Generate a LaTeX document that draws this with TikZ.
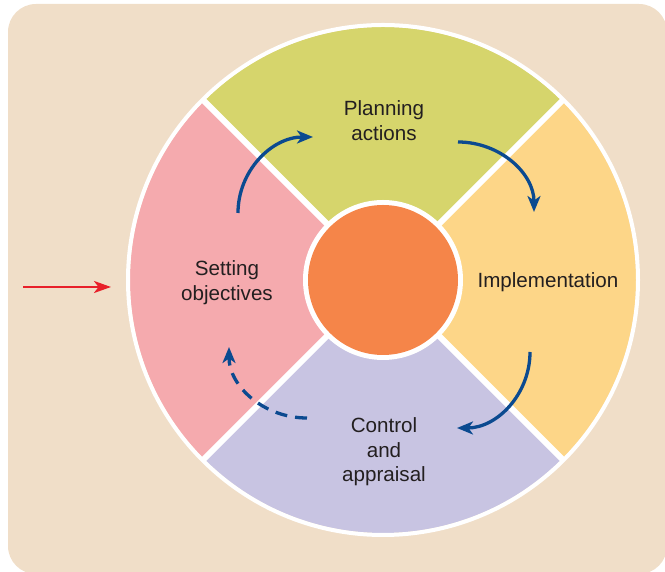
\documentclass[tikz,border=0pt]{standalone}
\usepackage{fontspec}
\setmainfont{Liberation Sans}
\usetikzlibrary{arrows.meta}
\definecolor{bgc}{HTML}{F0DEC8}
\definecolor{greenc}{HTML}{D6D56C}
\definecolor{yellowc}{HTML}{FDD688}
\definecolor{purplec}{HTML}{C8C4E2}
\definecolor{pinkc}{HTML}{F5AAAE}
\definecolor{corec}{HTML}{F58549}
\definecolor{navyc}{HTML}{0B4A90}
\definecolor{redc}{HTML}{E8202A}
\definecolor{textc}{HTML}{231F20}
\tikzset{
  lbl/.style={text=textc, align=center, inner sep=0pt,
    font=\fontsize{20.6}{24.5}\selectfont},
  cyclearrow/.style={draw=navyc, line width=3.3pt,
    -{Stealth[length=16pt,width=13pt,inset=4.5pt]}},
  inarrow/.style={draw=redc, line width=2.4pt,
    -{Stealth[length=17pt,width=12pt,inset=4.5pt]}},
  divider/.style={draw=white, line width=6pt}
}
\begin{document}
\begin{tikzpicture}[x=1pt,y=1pt]
\useasboundingbox (0,0) rectangle (665,572);
\fill[bgc, rounded corners=28pt] (8,-2) rectangle (667,568);
\coordinate (C) at (383,292);
% sectors
\fill[greenc]  (C) -- ++(45:253)  arc[start angle=45,end angle=135,radius=253] -- cycle;
\fill[pinkc]   (C) -- ++(135:253) arc[start angle=135,end angle=225,radius=253] -- cycle;
\fill[purplec] (C) -- ++(225:253) arc[start angle=225,end angle=315,radius=253] -- cycle;
\fill[yellowc] (C) -- ++(-45:253) arc[start angle=-45,end angle=45,radius=253] -- cycle;
% dividers and border
\foreach \a in {45,135,225,315} \draw[divider] (C) -- ++(\a:255);
\draw[white, line width=4pt] (C) circle[radius=255];
\fill[white] (C) circle[radius=80];
\fill[corec] (C) circle[radius=75];
% labels
\node[lbl] (plan) at (384,451.5) {Planning\\actions};
\node[lbl, anchor=base] (impl) at (548,284) {Implementation};
\node[lbl] (ctrl) at (384,120) {Control\\and\\appraisal};
\node[lbl] (sett) at (227,289.5) {Setting\\objectives};
% cycle arrows
\coordinate (a1) at (238,359);
\coordinate (a2) at (458,430);
\coordinate (a3) at (530,220);
\coordinate (a4) at (307,154);
\draw[cyclearrow] (a1) arc[start angle=180,end angle=90,x radius=75,y radius=76];
\draw[cyclearrow] (a2) arc[start angle=90,end angle=0,x radius=76,y radius=70];
\draw[cyclearrow] (a3) arc[start angle=0,end angle=-90,x radius=73,y radius=76];
\draw[cyclearrow, dash pattern=on 12pt off 8pt] (a4) arc[start angle=270,end angle=180,x radius=78,y radius=71];
% input arrow
\coordinate (r0) at (23,285);
\coordinate (r1) at (111,285);
\draw[inarrow] (r0) -- (r1);
\end{tikzpicture}
\end{document}
